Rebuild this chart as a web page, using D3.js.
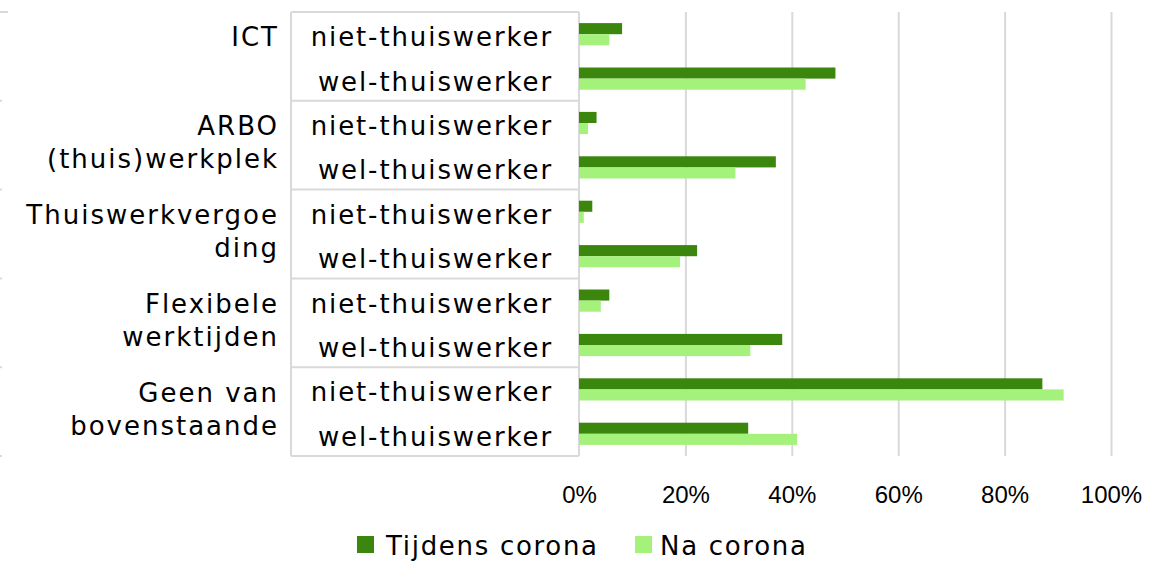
<!DOCTYPE html>
<html>
<head>
<meta charset="utf-8">
<script src="https://cdn.jsdelivr.net/npm/d3@7"></script>
<style>
  body { margin: 0; background: #fff; }
  svg { display: block; font-family: "DejaVu Sans", Verdana, sans-serif; }
  .grid line { stroke: #d9d9d9; stroke-width: 2; }
  .frame { stroke: #d9d9d9; stroke-width: 2; fill: none; }
  .cat { font-size: 26px; fill: #000; letter-spacing: 2px; }
  .sub { font-size: 26px; fill: #000; letter-spacing: 1.9px; }
  .tick text { font-size: 24px; fill: #000; }
  .legend text { font-size: 26px; fill: #000; letter-spacing: 1.7px; }
</style>
</head>
<body>
<div id="chart"></div>
<script>
// categories (wrapped the way the reference wraps them)
const categoryLines = [
  ["ICT"],
  ["ARBO", "(thuis)werkplek"],
  ["Thuiswerkvergoe", "ding"],
  ["Flexibele", "werktijden"],
  ["Geen van", "bovenstaande"]
];
const groups = ["niet-thuiswerker", "wel-thuiswerker"];
const seriesNames = ["Tijdens corona", "Na corona"];
// percentages, one per row (category x group), top to bottom
const tijdens = [8.1, 48.2, 3.3, 37.0, 2.5, 22.2, 5.7, 38.2, 87.1, 31.8];
const na = [5.7, 42.6, 1.7, 29.4, 0.9, 19.0, 4.1, 32.2, 91.1, 41.0];
const tickValues = [0, 20, 40, 60, 80, 100];

const colors = ["#3b870e", "#a4f17b"];

let margin = {top: 12, left: 579, right: 56, bottom: 107},
    width = 1167,
    height = 563,
    plotW = width - margin.left - margin.right,
    plotH = height - margin.top - margin.bottom;

// one row per category x group
let rows = [];
categoryLines.forEach((c, i) => groups.forEach((g, j) => rows.push({
    key: i + "-" + j, cat: i, group: g,
    values: [tijdens[i * 2 + j], na[i * 2 + j]]
})));

let xScale = d3.scaleLinear().domain([0, 100]).range([margin.left, margin.left + plotW]),
    yScale = d3.scaleBand().domain(rows.map(d => d.key))
        .range([margin.top, margin.top + plotH]).paddingInner(0.5).paddingOuter(0.25),
    ySub = d3.scaleBand().domain([0, 1]).range([0, yScale.bandwidth()]),
    step = yScale.step();

let svg = d3.select('#chart').append('svg')
    .attr('width', width)
    .attr('height', height);

// vertical gridlines
svg.append('g')
    .classed('grid', true)
    .attr('transform', `translate(0,${margin.top})`)
    .call(d3.axisBottom(xScale).tickValues(tickValues.slice(1)).tickSize(plotH).tickFormat(''))
    .call(g => g.select('.domain').remove());

// the category box: axis line, left line and separators
let rowCenter = i => margin.top + step * i + step / 2;
let catTop = i => margin.top + step * i * 2;
svg.append('line').classed('frame', true)
    .attr('x1', xScale(0)).attr('x2', xScale(0))
    .attr('y1', margin.top).attr('y2', margin.top + plotH);
svg.append('line').classed('frame', true)
    .attr('x1', 291).attr('x2', 291)
    .attr('y1', margin.top).attr('y2', margin.top + plotH);
d3.range(categoryLines.length + 1).forEach(i => {
    svg.append('line').classed('frame', true)
        .attr('x1', 291).attr('x2', xScale(0))
        .attr('y1', catTop(i)).attr('y2', catTop(i));
    svg.append('line').classed('frame', true)
        .attr('x1', 0).attr('x2', i === 0 ? 8 : 2)
        .attr('y1', catTop(i)).attr('y2', catTop(i));
});

// bars
let rowG = svg.append('g').selectAll('g')
    .data(rows)
    .join('g')
    .attr('transform', d => `translate(0,${yScale(d.key)})`);

rowG.selectAll('rect')
    .data(d => d.values)
    .join('rect')
    .attr('x', xScale(0))
    .attr('y', (d, i) => ySub(i))
    .attr('width', d => xScale(d) - xScale(0))
    .attr('height', ySub.bandwidth())
    .attr('fill', (d, i) => colors[i]);

// group labels
svg.append('g').selectAll('text')
    .data(rows)
    .join('text')
    .classed('sub', true)
    .attr('x', 553)
    .attr('y', (d, i) => rowCenter(i) + 12)
    .attr('text-anchor', 'end')
    .text(d => d.group);

// category labels
svg.append('g').selectAll('text')
    .data(categoryLines)
    .join('text')
    .classed('cat', true)
    .attr('text-anchor', 'end')
    .each(function (lines, i) {
        let c = catTop(i) + step;
        d3.select(this).selectAll('tspan')
            .data(lines)
            .join('tspan')
            .attr('x', 279)
            .attr('y', (l, k) => c - 10 + k * 33)
            .text(l => l);
    });

// x axis labels
svg.append('g')
    .attr('transform', `translate(0,${margin.top + plotH})`)
    .call(d3.axisBottom(xScale).tickValues(tickValues).tickSize(0).tickPadding(30)
        .tickFormat(d => d + '%'))
    .call(g => g.select('.domain').remove())
    .call(g => g.selectAll('text').attr('font-family', null).attr('font-size', null));

// legend
let legend = svg.append('g').classed('legend', true);
let legendX = [357, 635],
    legendTextX = [386, 660];
seriesNames.forEach((s, i) => {
    legend.append('rect')
        .attr('x', legendX[i]).attr('y', 536)
        .attr('width', 17).attr('height', 17)
        .attr('fill', colors[i]);
    legend.append('text')
        .attr('x', legendTextX[i]).attr('y', 555)
        .text(s);
});
</script>
</body>
</html>
